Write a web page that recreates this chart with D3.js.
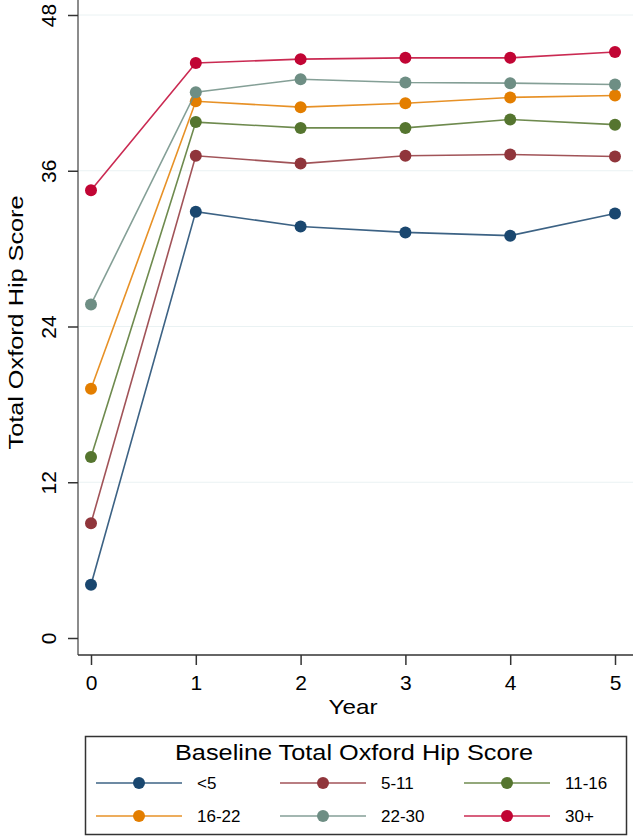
<!DOCTYPE html>
<html>
<head>
<meta charset="utf-8">
<script src="https://cdn.jsdelivr.net/npm/d3@7"></script>
<style>
  body { margin: 0; background: #fff; }
  svg text { font-family: "Liberation Sans", Arial, sans-serif; fill: #000; }
</style>
</head>
<body>
<div id="chart"></div>
<script>
// values
var years = [0, 1, 2, 3, 4, 5];
var groups = ['<5', '5-11', '11-16', '16-22', '22-30', '30+'];
var groupColors = ['#1a476f', '#90353b', '#55752f', '#e37e00', '#6e8e84', '#c10534'];
var yTicks = [0, 12, 24, 36, 48];

var scoreLt5 = [4.1, 32.85, 31.7, 31.25, 31.0, 32.7];
var score5to11 = [8.85, 37.15, 36.55, 37.15, 37.25, 37.1];
var score11to16 = [13.95, 39.75, 39.3, 39.3, 39.95, 39.55];
var score16to22 = [19.2, 41.35, 40.9, 41.2, 41.65, 41.8];
var score22to30 = [25.7, 42.05, 43.05, 42.8, 42.75, 42.65];
var score30plus = [34.5, 44.3, 44.6, 44.7, 44.7, 45.15];

var allScores = [scoreLt5, score5to11, score11to16, score16to22, score22to30, score30plus];

var width = 633, height = 839;
var margin = { top: 15, right: 18, bottom: 201, left: 91 };

var svg = d3.select('#chart')
  .append('svg')
  .attr('width', width)
  .attr('height', height);

var xScale = d3.scaleLinear()
  .domain([0, 5])
  .range([margin.left, width - margin.right]);

var yScale = d3.scaleLinear()
  .domain([0, 48])
  .range([height - margin.bottom, margin.top]);

var color = d3.scaleOrdinal().domain(groups).range(groupColors);

// light grid lines
svg.append('g')
  .selectAll('line')
  .data(yTicks.slice(1))
  .enter()
  .append('line')
  .attr('x1', 79)
  .attr('x2', width)
  .attr('y1', function (d) { return yScale(d); })
  .attr('y2', function (d) { return yScale(d); })
  .attr('stroke', '#eaf2f3')
  .attr('stroke-width', 1);

// y axis
var yAxis = svg.append('g')
  .attr('transform', 'translate(78,0)')
  .call(d3.axisLeft(yScale).tickValues(yTicks).tickSize(10));
yAxis.select('.domain').attr('d', 'M0,0V655').attr('stroke', '#666').attr('stroke-width', 1.5);
yAxis.selectAll('.tick line').attr('stroke', '#333').attr('stroke-width', 1.5);
yAxis.selectAll('.tick text')
  .attr('font-size', 21)
  .attr('x', 0)
  .attr('y', 0)
  .attr('dy', null)
  .attr('text-anchor', 'middle')
  .attr('transform', 'translate(-22,0) rotate(-90)');

// x axis
var xAxis = svg.append('g')
  .attr('transform', 'translate(0,655)')
  .call(d3.axisBottom(xScale).tickValues(years).tickSize(10).tickFormat(d3.format('d')));
xAxis.select('.domain').attr('d', 'M78,0H' + width).attr('stroke', '#333').attr('stroke-width', 1.5);
xAxis.selectAll('.tick line').attr('stroke', '#333').attr('stroke-width', 1.5);
xAxis.selectAll('.tick text')
  .attr('font-size', 21)
  .attr('dy', null)
  .attr('y', 35);

// axis titles
svg.append('text')
  .attr('x', xScale(2.5))
  .attr('y', 714)
  .attr('text-anchor', 'middle')
  .attr('font-size', 21)
  .attr('textLength', 49)
  .attr('lengthAdjust', 'spacingAndGlyphs')
  .text('Year');

svg.append('text')
  .attr('transform', 'translate(23,' + (yScale(24) - 4) + ') rotate(-90)')
  .attr('text-anchor', 'middle')
  .attr('font-size', 21)
  .attr('textLength', 254)
  .attr('lengthAdjust', 'spacingAndGlyphs')
  .text('Total Oxford Hip Score');

// lines and points
var line = d3.line()
  .x(function (d, i) { return xScale(years[i]); })
  .y(function (d) { return yScale(d); });

var series = svg.selectAll('.series')
  .data(allScores)
  .enter()
  .append('g')
  .attr('class', 'series');

series.append('path')
  .attr('d', function (d) { return line(d); })
  .attr('fill', 'none')
  .attr('stroke', function (d, i) { return color(groups[i]); })
  .attr('stroke-opacity', 0.85)
  .attr('stroke-width', 1.6);

series.selectAll('circle')
  .data(function (d, i) { return d.map(function (v) { return { v: v, g: groups[i] }; }); })
  .enter()
  .append('circle')
  .attr('cx', function (d, i) { return xScale(years[i]); })
  .attr('cy', function (d) { return yScale(d.v); })
  .attr('r', 6)
  .attr('fill', function (d) { return color(d.g); });

// legend
var legend = svg.append('g');
legend.append('rect')
  .attr('x', 85.5)
  .attr('y', 736.5)
  .attr('width', 541)
  .attr('height', 98)
  .attr('fill', '#fff')
  .attr('stroke', '#333')
  .attr('stroke-width', 1.5);

legend.append('text')
  .attr('x', 354)
  .attr('y', 760)
  .attr('text-anchor', 'middle')
  .attr('font-size', 22)
  .attr('textLength', 358)
  .attr('lengthAdjust', 'spacingAndGlyphs')
  .text('Baseline Total Oxford Hip Score');

var colX = [96, 280, 464];
var rowY = [783, 816];
var item = legend.selectAll('.item')
  .data(groups)
  .enter()
  .append('g')
  .attr('class', 'item')
  .attr('transform', function (d, i) {
    return 'translate(' + colX[i % 3] + ',' + rowY[Math.floor(i / 3)] + ')';
  });

item.append('line')
  .attr('x1', 0).attr('x2', 86)
  .attr('y1', 0).attr('y2', 0)
  .attr('stroke', function (d) { return color(d); })
  .attr('stroke-opacity', 0.85)
  .attr('stroke-width', 1.6);

item.append('circle')
  .attr('cx', 43).attr('cy', 0).attr('r', 6)
  .attr('fill', function (d) { return color(d); });

item.append('text')
  .attr('x', 101)
  .attr('y', 0)
  .attr('dy', '0.35em')
  .attr('font-size', 17)
  .text(function (d) { return d; });
</script>
</body>
</html>
